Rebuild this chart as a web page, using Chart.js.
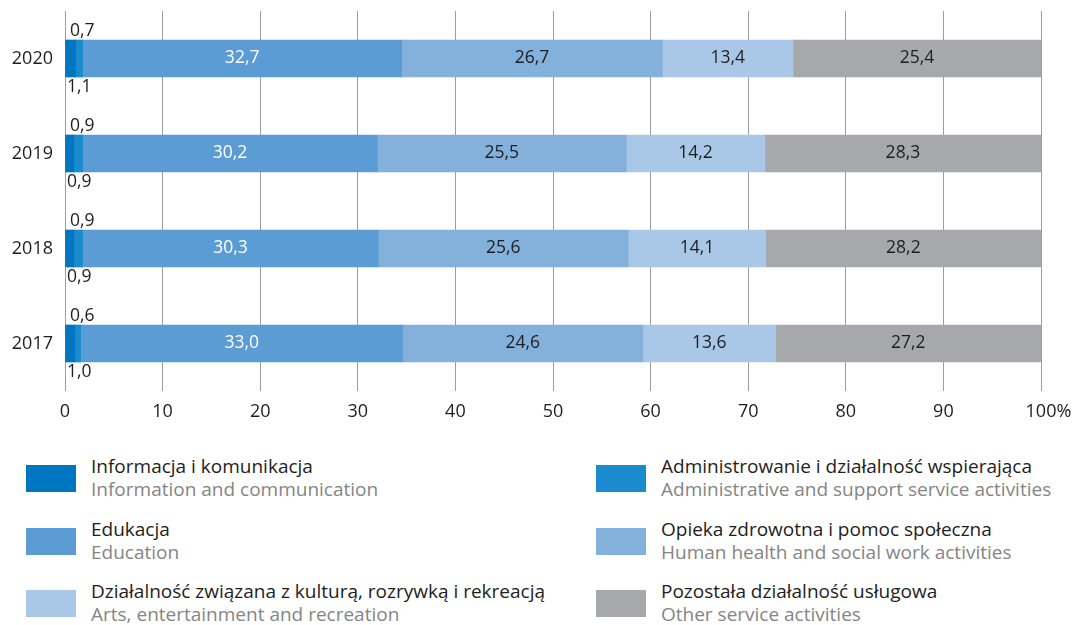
<!DOCTYPE html>
<html>
<head>
<meta charset="utf-8">
<script src="https://cdn.jsdelivr.net/npm/chart.js@4"></script>
<style>
	body { margin: 0; background: #fff; font-family: "Open Sans", sans-serif; }
	#wrap { position: relative; width: 1085px; height: 625px; }
	#chartBox { position: absolute; left: 0; top: 0; width: 1085px; height: 440px; }
	.item { position: absolute; display: flex; align-items: center; }
	.sw { width: 50px; height: 27px; margin-right: 15px; flex: none; }
	.pl { font-size: 19px; color: #1e1e1e; line-height: 23px; white-space: nowrap; }
	.en { font-size: 19px; color: #858585; line-height: 23px; white-space: nowrap; }
</style>
</head>
<body>
<div id="wrap">
	<div id="chartBox"><canvas id="chart"></canvas></div>
	<div id="legend"></div>
</div>
<script>
// chart data
const years = ["2020", "2019", "2018", "2017"];
const info = [1.1, 0.9, 0.9, 1.0];
const admin = [0.7, 0.9, 0.9, 0.6];
const education = [32.7, 30.2, 30.3, 33.0];
const health = [26.7, 25.5, 25.6, 24.6];
const arts = [13.4, 14.2, 14.1, 13.6];
const other = [25.4, 28.3, 28.2, 27.2];
const xTicks = [0, 10, 20, 30, 40, 50, 60, 70, 80, 90, 100];

const namesPl = [
	"Informacja i komunikacja",
	"Administrowanie i działalność wspierająca",
	"Edukacja",
	"Opieka zdrowotna i pomoc społeczna",
	"Działalność związana z kulturą, rozrywką i rekreacją",
	"Pozostała działalność usługowa",
];
const namesEn = [
	"Information and communication",
	"Administrative and support service activities",
	"Education",
	"Human health and social work activities",
	"Arts, entertainment and recreation",
	"Other service activities",
];
const colors = ["#0075c1", "#1a8bcc", "#5b9cd4", "#84b0dc", "#a9c8e7", "#a7a8ac"];
const series = [info, admin, education, health, arts, other];

const fmt = (v) => v.toFixed(1).replace(".", ",");

// value labels drawn on / next to the bars, plus the % after the last tick
const barLabels = {
	id: "barLabels",
	afterDatasetsDraw(chart) {
		const ctx = chart.ctx;
		ctx.save();
		ctx.font = "17.5px 'Open Sans'";
		ctx.textBaseline = "middle";
		chart.data.datasets.forEach((ds, i) => {
			const meta = chart.getDatasetMeta(i);
			meta.data.forEach((bar, j) => {
				const v = ds.data[j];
				const top = bar.y - bar.height / 2;
				const bottom = bar.y + bar.height / 2;
				if (i === 0) {
					ctx.fillStyle = "#1e1e1e";
					ctx.textAlign = "left";
					ctx.fillText(fmt(v), chart.chartArea.left + 2, bottom + 10);
				} else if (i === 1) {
					ctx.fillStyle = "#1e1e1e";
					ctx.textAlign = "left";
					ctx.fillText(fmt(v), chart.chartArea.left + 5, top - 9);
				} else {
					ctx.fillStyle = i === 2 ? "#ffffff" : "#1e1e1e";
					ctx.textAlign = "center";
					ctx.fillText(fmt(v), (bar.x + bar.base) / 2, bar.y);
				}
			});
		});
		// percent sign after "100"
		const xs = chart.scales.x;
		ctx.font = "18px 'Open Sans'";
		ctx.fillStyle = "#1e1e1e";
		ctx.textAlign = "left";
		const w = ctx.measureText("100").width;
		ctx.fillText("%", xs.getPixelForValue(100) + w / 2, chart.chartArea.bottom + 21);
		ctx.restore();
	},
};

new Chart(document.getElementById("chart"), {
	type: "bar",
	data: {
		labels: years,
		datasets: series.map((d, i) => ({
			label: namesPl[i],
			data: d,
			backgroundColor: colors[i],
			borderWidth: 0,
			barThickness: 37,
		})),
	},
	options: {
		indexAxis: "y",
		responsive: true,
		maintainAspectRatio: false,
		animation: false,
		layout: { padding: { top: 11, right: 44, left: 0, bottom: 0 } },
		plugins: { legend: { display: false }, tooltip: { enabled: false } },
		scales: {
			x: {
				stacked: true,
				min: 0,
				max: 100,
				afterBuildTicks: (scale) => {
					scale.ticks = xTicks.map((v) => ({ value: v }));
				},
				afterFit: (scale) => {
					scale.height = 49;
				},
				grid: { color: "#9d9d9d", lineWidth: 1, drawTicks: false },
				border: { display: false },
				ticks: {
					padding: 10,
					color: "#1e1e1e",
					font: { family: "Open Sans", size: 18 },
				},
			},
			y: {
				stacked: true,
				afterFit: (scale) => {
					scale.width = 65;
					scale.paddingTop = 0;
					scale.paddingBottom = 0;
				},
				grid: { display: false },
				border: { display: false },
				ticks: {
					padding: 4,
					color: "#1e1e1e",
					font: { family: "Open Sans", size: 18 },
				},
			},
		},
	},
	plugins: [barLabels],
});

// legend
const legend = document.getElementById("legend");
const rowTops = [455, 518, 580];
series.forEach((d, i) => {
	const col = i % 2;
	const row = Math.floor(i / 2);
	const el = document.createElement("div");
	el.className = "item";
	el.style.left = (col === 0 ? 26 : 596) + "px";
	el.style.top = rowTops[row] + "px";
	el.innerHTML =
		'<div class="sw" style="background:' + colors[i] + '"></div>' +
		'<div><div class="pl">' + namesPl[i] + '</div><div class="en">' + namesEn[i] + "</div></div>";
	legend.appendChild(el);
});
</script>
</body>
</html>
